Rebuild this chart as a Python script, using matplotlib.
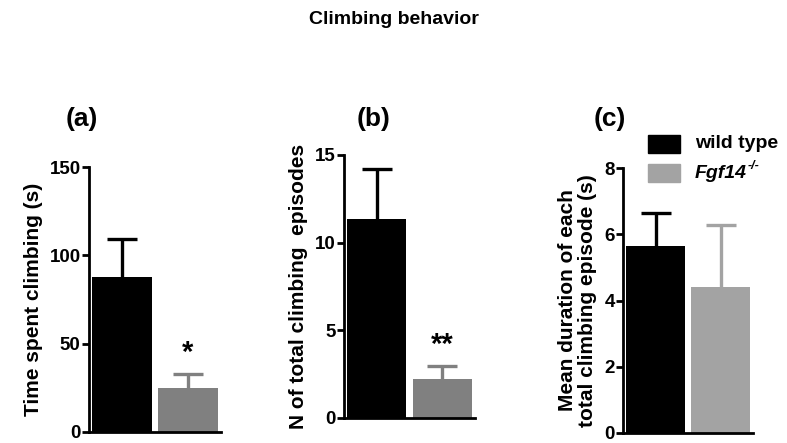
import matplotlib
matplotlib.use("Agg")
import matplotlib.pyplot as plt
from matplotlib.patches import Rectangle

plt.rcParams['font.family'] = ['Liberation Sans', 'DejaVu Sans']
plt.rcParams['font.weight'] = 'bold'

# -------------------------------
# DATA (mean, SEM)
# -------------------------------
groups = ["wild type", "Fgf14"]

time_mean = [87.9, 24.7]
time_sem = [21.5, 8.1]

episodes_mean = [11.35, 2.24]
episodes_sem = [2.83, 0.74]

duration_mean = [5.64, 4.42]
duration_sem = [1.01, 1.87]

panel_titles = ["(a)", "(b)", "(c)"]
ylabels = ["Time spent climbing (s)",
           "N of total climbing  episodes",
           "Mean duration of each\ntotal climbing episode (s)"]
ylims = [150, 15, 8]
yticks = [[0, 50, 100, 150], [0, 5, 10, 15], [0, 2, 4, 6, 8]]
stars = ["*", "**", ""]

colors_ab = ["black", "#808080"]
colors_c = ["black", "#a3a3a3"]

W, H = 787, 443

# -------------------------------
# FIGURE
# -------------------------------
fig = plt.figure(figsize=(W / 100, H / 100), dpi=100)
fig.text(0.5, 1 - 20 / H, "Climbing behavior", ha='center', va='center',
         fontsize=14, fontweight='bold')

# axes rectangles (pixels -> figure fractions)
rects = [
    [89 / W, 11 / H, 132 / W, 265 / H],
    [344 / W, 25 / H, 131 / W, 263 / H],
    [623 / W, 10.3 / H, 130 / W, 264.4 / H],
]

data = [(time_mean, time_sem), (episodes_mean, episodes_sem),
        (duration_mean, duration_sem)]
title_x = [82, 374, 610]

for i, (rect, (means, sems)) in enumerate(zip(rects, data)):
    ax = fig.add_axes(rect)
    colors = colors_c if i == 2 else colors_ab
    x = [0, 1]
    ax.bar(x, means, width=0.9, color=colors, zorder=2)
    for xi, m, s, c in zip(x, means, sems, colors):
        # upper-only SEM bar; the lower cap would sit on the bar top
        _, caps, _ = ax.errorbar(xi, m, yerr=[[0], [s]], color=c,
                                 elinewidth=2.4, capsize=11, capthick=2.4,
                                 zorder=1)
        caps[0].set_visible(False)
    if stars[i]:
        ax.text(1, means[1] + sems[1] + ylims[i] * 0.025, stars[i],
                ha='center', va='bottom', fontsize=21, fontweight='bold')

    ax.set_xlim(-0.5, 1.5)
    ax.set_ylim(0, ylims[i])
    ax.set_yticks(yticks[i])
    ax.set_xticks([])
    ax.spines['top'].set_visible(False)
    ax.spines['right'].set_visible(False)
    ax.spines['left'].set_linewidth(2)
    ax.spines['bottom'].set_linewidth(2)
    ax.tick_params(axis='y', width=2, length=5, labelsize=13.5, pad=1)
    for lab in ax.get_yticklabels():
        lab.set_fontweight('bold')
    ax.set_ylabel(ylabels[i], fontsize=15, fontweight='bold', labelpad=5,
                  linespacing=1.1)

    fig.text(title_x[i] / W, 1 - 119 / H, panel_titles[i],
             ha='center', va='center', fontsize=19, fontweight='bold')

# legend drawn by hand: swatches plus labels
legend_rows = [(144, colors_c[0]), (173, colors_c[1])]
for y_px, c in legend_rows:
    fig.add_artist(Rectangle((648 / W, 1 - (y_px + 9) / H), 32 / W, 18 / H,
                             transform=fig.transFigure, color=c))

fig.text(695 / W, 1 - 144 / H, groups[0], ha='left', va='center',
         fontsize=14, fontweight='bold')
geno = fig.text(695 / W, 1 - 173 / H, groups[1], ha='left', va='center',
                fontsize=14, fontweight='bold', style='italic')
fig.canvas.draw()
bb = geno.get_window_extent()
fig.text(bb.x1 / W + 1 / W, 1 - 166 / H, "-/-", ha='left', va='center',
         fontsize=9, fontweight='bold', style='italic')

fig.savefig("out.png", dpi=100)
